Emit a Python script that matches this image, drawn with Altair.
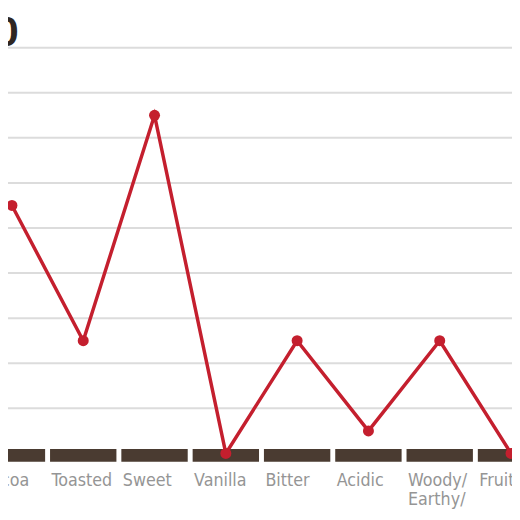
import altair as alt
import pandas as pd

categories = ["Cocoa", "Toasted", "Sweet", "Vanilla", "Bitter", "Acidic", "Woody/\nEarthy/", "Fruity"]
scores = [5.5, 2.5, 7.5, 0, 2.5, 0.5, 2.5, 0]
grid_values = [1, 2, 3, 4, 5, 6, 7, 8, 9]
corner_label = "0"

df = pd.DataFrame({"idx": list(range(len(categories))), "cat": categories, "score": scores})
df["left"] = df["idx"] - 0.5
df["right"] = df["idx"] + 0.5
df["base"] = 0

xs = alt.Scale(domain=[-0.0552, 7.0138], nice=False, zero=False)
ys = alt.Scale(domain=[-1.2336, 9.7926], nice=False, zero=False)

RED = "#c41f2e"

grid = alt.Chart(pd.DataFrame({"g": grid_values})).mark_rule(
    color="#dcdcdc", strokeWidth=2
).encode(y=alt.Y("g:Q", scale=ys, axis=None))

bars = alt.Chart(df).mark_rule(
    color="#4a3b31", strokeWidth=13, strokeCap="butt", xOffset=2.5, x2Offset=-2.5, yOffset=2
).encode(
    x=alt.X("left:Q", scale=xs, axis=None),
    x2="right:Q",
    y=alt.Y("base:Q", scale=ys, axis=None),
)

line = alt.Chart(df).mark_line(color=RED, strokeWidth=3.5).encode(
    x=alt.X("idx:Q", scale=xs, axis=None),
    y=alt.Y("score:Q", scale=ys, axis=None),
)

points = alt.Chart(df).mark_circle(color=RED, opacity=1, size=125).encode(
    x=alt.X("idx:Q", scale=xs, axis=None),
    y=alt.Y("score:Q", scale=ys, axis=None),
)

labels = alt.Chart(df).mark_text(
    align="left", baseline="alphabetic", dx=4, dy=33, fontSize=18,
    font="Liberation Sans Narrow, Arial Narrow, DejaVu Sans Condensed, sans-serif",
    color="#959595", lineBreak="\n", lineHeight=19,
).encode(
    x=alt.X("left:Q", scale=xs, axis=None),
    y=alt.Y("base:Q", scale=ys, axis=None),
    text="cat:N",
)

corner = alt.Chart(pd.DataFrame({"t": [corner_label]})).mark_text(
    align="right", baseline="alphabetic", fontSize=44, fontWeight="bold",
    font="Liberation Sans, Arial, sans-serif", color="#2e2622",
).encode(x=alt.value(11), y=alt.value(35), text="t:N")

chart = alt.layer(grid, bars, line, points, labels, corner).properties(
    width=512, height=505, autosize=alt.AutoSizeParams(type="none"), padding=0
).configure_view(stroke=None)

chart.save("out.html", embed_options={"renderer": "svg", "actions": False})
